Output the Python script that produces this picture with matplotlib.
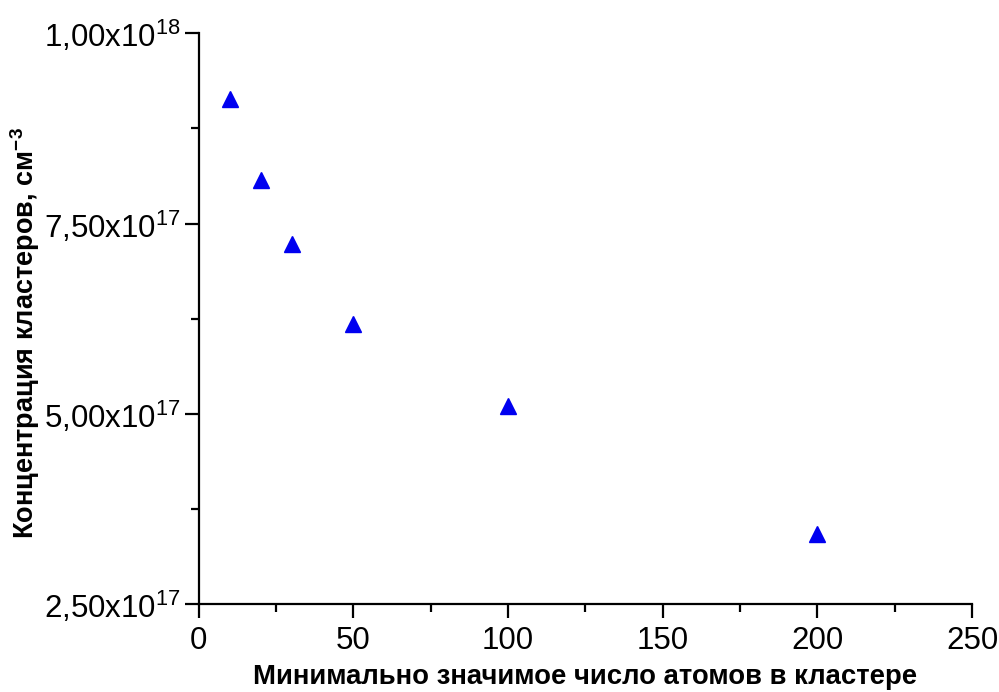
import numpy as np
import matplotlib.pyplot as plt
from matplotlib.ticker import FuncFormatter, MultipleLocator

plt.rcParams['font.family'] = ['Liberation Sans', 'DejaVu Sans']
plt.rcParams['mathtext.fontset'] = 'custom'
plt.rcParams['mathtext.rm'] = 'Liberation Sans'
plt.rcParams['mathtext.bf'] = 'Liberation Sans:bold'

# Data
atoms = [10, 20, 30, 50, 100, 200]
conc = [9.14e17, 8.07e17, 7.23e17, 6.18e17, 5.10e17, 3.42e17]

xlabel = "Минимально значимое число атомов в кластере"
ylabel = "Концентрация кластеров, см$^{\\mathbf{-3}}$"


def sci_fmt(v, pos):
    if v <= 0:
        return "0"
    e = int(np.floor(np.log10(v) + 1e-9))
    m = v / 10**e
    s = ("%.2f" % m).replace(".", ",")
    return "%sx10$^{%d}$" % (s, e)


fig = plt.figure(figsize=(9.99, 6.92), dpi=100)
ax = fig.add_axes([0.199, 0.127, 0.774, 0.825])

ax.plot(atoms, conc, linestyle="none", marker="^", markersize=12, color="#0000f0")

ax.set_xlim(0, 250)
ax.set_ylim(2.5e17, 1.0e18)
ax.xaxis.set_major_locator(MultipleLocator(50))
ax.xaxis.set_minor_locator(MultipleLocator(25))
ax.yaxis.set_major_locator(MultipleLocator(2.5e17))
ax.yaxis.set_minor_locator(MultipleLocator(1.25e17))
ax.yaxis.set_major_formatter(FuncFormatter(sci_fmt))
ax.yaxis.get_offset_text().set_visible(False)

for s in ["top", "right"]:
    ax.spines[s].set_visible(False)
for s in ["left", "bottom"]:
    ax.spines[s].set_linewidth(1.6)

ax.tick_params(which="major", direction="out", length=10, width=1.6, labelsize=22.5)
ax.tick_params(axis="x", which="major", pad=6)
ax.tick_params(axis="y", which="major", pad=3)
ax.tick_params(which="minor", direction="out", length=6, width=1.6)

ax.set_xlabel(xlabel, fontsize=19.8, fontweight="bold", labelpad=5.5)
ax.set_ylabel(ylabel, fontsize=19.5, fontweight="bold", labelpad=1)
ax.yaxis.label.set_y(0.474)

fig.savefig("out.png", dpi=100)
